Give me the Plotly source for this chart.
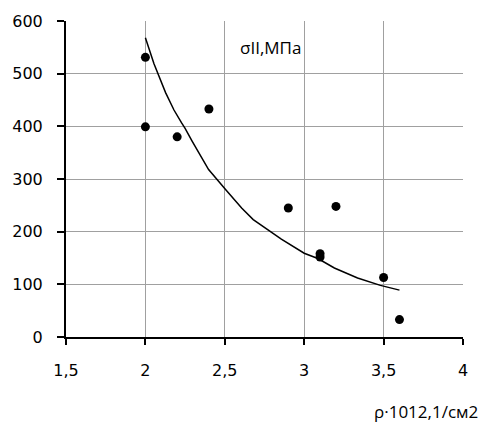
import plotly.graph_objects as go

# measured points
pts_x = [2.0, 2.0, 2.2, 2.4, 2.9, 3.1, 3.1, 3.2, 3.5, 3.6]
pts_y = [531, 399, 380, 433, 245, 158, 152, 248, 113, 33]

# trend curve
curve_x = [2.0, 2.054, 2.127, 2.18, 2.227, 2.25, 2.294, 2.398, 2.502, 2.606,
           2.679, 2.773, 2.856, 3.0, 3.086, 3.19, 3.336, 3.48, 3.6]
curve_y = [568, 519, 464, 431, 407, 396, 372, 318, 281, 245,
           223, 203, 186, 159, 149, 131, 112, 98, 89]

x_ticks = [1.5, 2, 2.5, 3, 3.5, 4]
x_tick_text = ["1,5", "2", "2,5", "3", "3,5", "4"]
y_ticks = [0, 100, 200, 300, 400, 500, 600]

series_label = "σII,МПа"
x_title = "ρ·1012,1/см2"

fig = go.Figure()
fig.add_trace(go.Scatter(x=curve_x, y=curve_y, mode="lines",
                         line=dict(color="black", width=1.5), showlegend=False))
fig.add_trace(go.Scatter(x=pts_x, y=pts_y, mode="markers",
                         marker=dict(color="black", size=9), showlegend=False))

fig.add_annotation(x=2.58, y=549, xref="x", yref="y", text=series_label,
                   showarrow=False, xanchor="left", yanchor="middle",
                   font=dict(family="Open Sans", size=17, color="black"))
fig.add_annotation(x=1.043, y=0.0, xref="paper", yref="paper", text=x_title,
                   showarrow=False, xanchor="right", yanchor="middle",
                   yshift=-74,
                   font=dict(family="Open Sans", size=17, color="black"))

fig.update_xaxes(range=[1.5, 4], tickvals=x_ticks, ticktext=x_tick_text,
                 showgrid=True, gridcolor="#a0a0a0", gridwidth=1,
                 showline=True, linecolor="black", linewidth=2,
                 ticks="outside", ticklen=6, tickwidth=2, tickcolor="black",
                 ticklabelstandoff=12, zeroline=False,
                 tickfont=dict(family="DejaVu Sans", size=16, color="black"))
fig.update_yaxes(range=[0, 600], tickvals=y_ticks,
                 showgrid=True, gridcolor="#a0a0a0", gridwidth=1,
                 showline=True, linecolor="black", linewidth=2,
                 ticks="outside", ticklen=7, tickwidth=2, tickcolor="black",
                 ticklabelstandoff=11, zeroline=False,
                 tickfont=dict(family="DejaVu Sans", size=16, color="black"))

fig.update_layout(width=486, height=423,
                  margin=dict(l=63, r=23, t=20, b=86),
                  paper_bgcolor="white", plot_bgcolor="white")

fig.write_html("out.html")
